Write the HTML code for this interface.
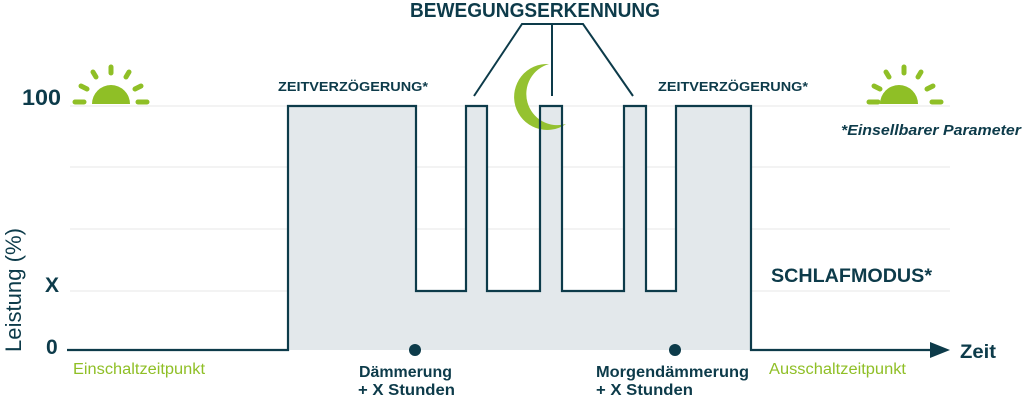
<!DOCTYPE html>
<html><head><meta charset="utf-8"><style>
body{margin:0;background:#fff}
svg{display:block}
text{font-family:"Liberation Sans",sans-serif}
</style></head><body>
<svg width="1024" height="400" viewBox="0 0 1024 400" xmlns="http://www.w3.org/2000/svg">
<g stroke="#ececec" stroke-width="1.2">
<line x1="70" y1="106" x2="950" y2="106"/>
<line x1="70" y1="167" x2="950" y2="167"/>
<line x1="70" y1="229" x2="950" y2="229"/>
<line x1="70" y1="291" x2="950" y2="291"/>
</g>
<path d="M288 350 L288 106 L416 106 L416 291 L466 291 L466 106 L487 106 L487 291 L540 291 L540 106 L562 106 L562 291 L624 291 L624 106 L646 106 L646 291 L676 291 L676 106 L751 106 L751 350 Z" fill="#e3e8eb"/>
<path d="M549 64 A33 33 0 1 0 566 124 A30 30 0 0 1 549 64 Z" fill="#8fbf26" opacity="0.95"/>
<path d="M67 350 L288 350 L288 106 L416 106 L416 291 L466 291 L466 106 L487 106 L487 291 L540 291 L540 106 L562 106 L562 291 L624 291 L624 106 L646 106 L646 291 L676 291 L676 106 L751 106 L751 350 L935 350" fill="none" stroke="#0d3b4a" stroke-width="2.2"/>
<path d="M930 342 L950 350 L930 358 Z" fill="#0d3b4a"/>
<g fill="none" stroke="#0d3b4a" stroke-width="2">
<path d="M474 96 L522 24 L583 24 L633 96"/>
<line x1="552" y1="24" x2="552" y2="96"/>
</g>
<g fill="#8fbf26">
<path d="M92 104 A19 19 0 0 1 130 104 Z"/>
<path d="M880 104 A19 19 0 0 1 918 104 Z"/>
</g>
<g stroke="#8fbf26" stroke-width="5" stroke-linecap="round">
<line x1="75" y1="102" x2="84" y2="102"/><line x1="138" y1="102" x2="147" y2="102"/>
<line x1="81" y1="86" x2="87" y2="89"/><line x1="141" y1="86" x2="135" y2="89"/>
<line x1="93" y1="72" x2="96" y2="77"/><line x1="129" y1="72" x2="126" y2="77"/>
<line x1="111" y1="67" x2="111" y2="73"/>
<line x1="869" y1="102" x2="878" y2="102"/><line x1="932" y1="102" x2="941" y2="102"/>
<line x1="874" y1="86" x2="880" y2="89"/><line x1="933" y1="86" x2="927" y2="89"/>
<line x1="886" y1="72" x2="889" y2="77"/><line x1="921" y1="72" x2="918" y2="77"/>
<line x1="904" y1="67" x2="904" y2="73"/>
</g>
<g fill="#0d3b4a" font-weight="bold">
<text x="22" y="105" font-size="22" textLength="39" lengthAdjust="spacingAndGlyphs">100</text>
<text x="45" y="292" font-size="21">X</text>
<text x="46" y="354" font-size="21">0</text>
<text x="278" y="91" font-size="13" textLength="150" lengthAdjust="spacingAndGlyphs">ZEITVERZÖGERUNG*</text>
<text x="658" y="91" font-size="13" textLength="150" lengthAdjust="spacingAndGlyphs">ZEITVERZÖGERUNG*</text>
<text x="410" y="17" font-size="20" textLength="250" lengthAdjust="spacingAndGlyphs">BEWEGUNGSERKENNUNG</text>
<text x="771" y="282" font-size="19" textLength="161" lengthAdjust="spacingAndGlyphs">SCHLAFMODUS*</text>
<text x="960" y="358" font-size="19" textLength="36" lengthAdjust="spacingAndGlyphs">Zeit</text>
<text x="359" y="377" font-size="15.5" textLength="93" lengthAdjust="spacingAndGlyphs">Dämmerung</text>
<text x="358" y="395" font-size="15.5" textLength="97" lengthAdjust="spacingAndGlyphs">+ X Stunden</text>
<text x="596" y="377" font-size="15.5" textLength="153" lengthAdjust="spacingAndGlyphs">Morgendämmerung</text>
<text x="596" y="395" font-size="15.5" textLength="97" lengthAdjust="spacingAndGlyphs">+ X Stunden</text>
<text x="841" y="135" font-size="15" font-style="italic" textLength="180" lengthAdjust="spacingAndGlyphs">*Einsellbarer Parameter</text>
</g>
<text transform="translate(21,352) rotate(-90)" font-size="22" fill="#0d3b4a" textLength="124" lengthAdjust="spacingAndGlyphs">Leistung (%)</text>
<circle cx="415" cy="350" r="6" fill="#0d3b4a"/>
<circle cx="675" cy="350" r="6" fill="#0d3b4a"/>
<text x="73" y="374" font-size="15.5" fill="#8fbf26" textLength="132" lengthAdjust="spacingAndGlyphs">Einschaltzeitpunkt</text>
<text x="769" y="374" font-size="15.5" fill="#8fbf26" textLength="137" lengthAdjust="spacingAndGlyphs">Ausschaltzeitpunkt</text>
</svg>
</body></html>
